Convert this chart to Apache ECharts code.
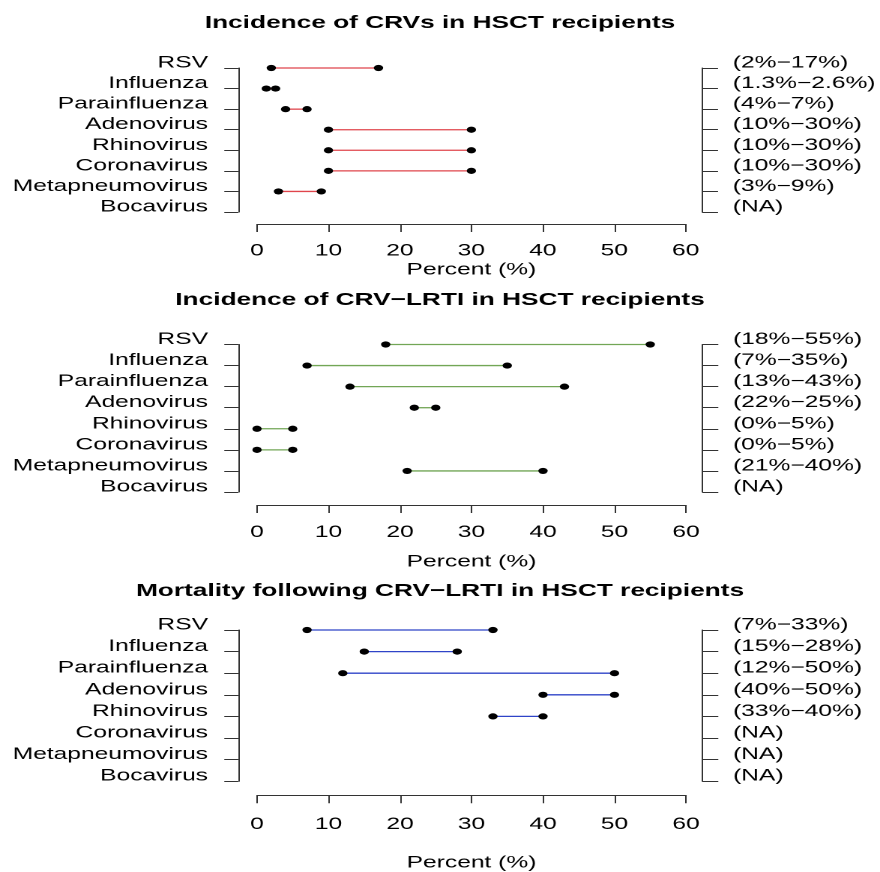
<!DOCTYPE html>
<html>
<head>
<meta charset="utf-8">
<script src="https://cdn.jsdelivr.net/npm/echarts@6/dist/echarts.min.js"></script>
<style>
html,body{margin:0;padding:0;background:#fff;overflow:hidden;}
#c{width:587px;height:872px;transform:scaleX(1.49915);transform-origin:0 0;}
</style>
</head>
<body>
<div id="c"></div>
<script>
// ---- data ----
const viruses = ['RSV','Influenza','Parainfluenza','Adenovirus','Rhinovirus','Coronavirus','Metapneumovirus','Bocavirus'];
const titles = ['Incidence of CRVs in HSCT recipients','Incidence of CRV\u2212LRTI in HSCT recipients','Mortality following CRV\u2212LRTI in HSCT recipients'];
const crvLow  = [2, 1.3, 4, 10, 10, 10, 3, null];
const crvHigh = [17, 2.6, 7, 30, 30, 30, 9, null];
const lrtiLow  = [18, 7, 13, 22, 0, 0, 21, null];
const lrtiHigh = [55, 35, 43, 25, 5, 5, 40, null];
const mortLow  = [7, 15, 12, 40, 33, null, null, null];
const mortHigh = [33, 28, 50, 50, 40, null, null, null];
const xTicks = [0, 10, 20, 30, 40, 50, 60];
const xLabel = 'Percent (%)';

// ---- layout (in unstretched units) ----
const S = 880 / 587;
const FONT = 'Liberation Sans, Arial, Helvetica, sans-serif';
const panels = [
  {low: crvLow, high: crvHigh, color: '#e0454c', top: 68, height: 144, xOff: 12, lblMargin: 18.8, nameGap: 37.8, titleTop: 14},
  {low: lrtiLow, high: lrtiHigh, color: '#72a656', top: 344.5, height: 147.5, xOff: 13, lblMargin: 19.3, nameGap: 48.8, titleTop: 291},
  {low: mortLow, high: mortHigh, color: '#2f44c8', top: 630, height: 152.7, xOff: 14, lblMargin: 21.5, nameGap: 59.8, titleTop: 582}
];
const gridLeft = 257 / S, gridRightEdge = 686 / S, W = 587;
const leftAxisX = 238.3 / S, rightAxisX = 702.3 / S;

function rangeLabels(lo, hi) {
  return lo.map((v, i) => v == null ? '(NA)' : '(' + v + '%\u2212' + hi[i] + '%)');
}

const option = {
  animation: false,
  backgroundColor: '#fff',
  title: [], grid: [], xAxis: [], yAxis: [], series: []
};

panels.forEach((p, k) => {
  option.title.push({
    text: titles[k], left: 'center', top: p.titleTop, padding: 0,
    textStyle: {fontFamily: FONT, fontSize: 17.5, fontWeight: 'bold', color: '#000'}
  });
  option.grid.push({left: gridLeft, right: W - gridRightEdge, top: p.top, height: p.height, containLabel: false});
  option.xAxis.push({
    type: 'value', gridIndex: k, min: xTicks[0], max: xTicks[xTicks.length - 1], interval: 10,
    position: 'bottom', offset: p.xOff,
    name: xLabel, nameLocation: 'middle', nameGap: p.nameGap,
    nameTextStyle: {fontFamily: FONT, fontSize: 16.4, color: '#000'},
    axisLine: {show: true, onZero: false, lineStyle: {color: '#333', width: 1}},
    axisTick: {show: true, length: 8, lineStyle: {color: '#333', width: 1}},
    axisLabel: {fontFamily: FONT, fontSize: 16.4, color: '#000', margin: p.lblMargin},
    splitLine: {show: false}
  });
  const ylab = {fontFamily: FONT, fontSize: 16.4, color: '#000', verticalAlign: 'bottom', lineHeight: 10};
  option.yAxis.push({
    type: 'category', gridIndex: k, data: viruses, inverse: true, boundaryGap: false,
    position: 'left', offset: gridLeft - leftAxisX,
    axisLine: {show: true, onZero: false, lineStyle: {color: '#333', width: 1}},
    axisTick: {show: true, length: 9.33, lineStyle: {color: '#333', width: 1}},
    axisLabel: Object.assign({margin: 20.2, interval: 0}, ylab),
    splitLine: {show: false}
  });
  option.yAxis.push({
    type: 'category', gridIndex: k, data: rangeLabels(p.low, p.high), inverse: true, boundaryGap: false,
    position: 'right', offset: rightAxisX - gridRightEdge,
    axisLine: {show: true, onZero: false, lineStyle: {color: '#333', width: 1}},
    axisTick: {show: true, length: 10.67, lineStyle: {color: '#333', width: 1}},
    axisLabel: Object.assign({margin: 20.5, interval: 0}, ylab),
    splitLine: {show: false}
  });
  const data = [];
  p.low.forEach((v, i) => { if (v != null) data.push([v, p.high[i], i]); });
  const color = p.color;
  option.series.push({
    type: 'custom', xAxisIndex: k, yAxisIndex: 2 * k,
    encode: {x: [0, 1], y: 2},
    itemStyle: {color: color},
    data: data,
    renderItem: function (params, api) {
      const y = api.value(2);
      const a = api.coord([api.value(0), y]);
      const b = api.coord([api.value(1), y]);
      return {type: 'group', children: [
        {type: 'line', shape: {x1: a[0], y1: a[1], x2: b[0], y2: b[1]}, style: {stroke: color, fill: null, lineWidth: 1.3}},
        {type: 'circle', shape: {cx: a[0], cy: a[1], r: 3.1}, style: {fill: '#000', stroke: null}},
        {type: 'circle', shape: {cx: b[0], cy: b[1], r: 3.1}, style: {fill: '#000', stroke: null}}
      ]};
    }
  });
});

const chart = echarts.init(document.getElementById('c'), null, {renderer: 'canvas', devicePixelRatio: 2});
chart.setOption(option);
</script>
</body>
</html>
